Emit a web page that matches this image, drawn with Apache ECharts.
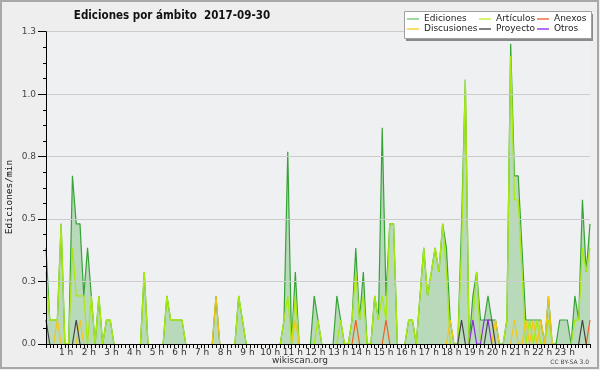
<!DOCTYPE html>
<html><head><meta charset="utf-8">
<script src="https://cdn.jsdelivr.net/npm/echarts@6/dist/echarts.min.js"></script>
<style>html,body{margin:0;padding:0;background:#eeeeee}#c{width:600px;height:370px}</style>
</head><body><div id="c"></div>
<script>
// one value every 10 minutes, from 00:00 to 24:00 (145 points)
const STEP_MIN = 10;
const hourLabels = ['', '1 h','2 h','3 h','4 h','5 h','6 h','7 h','8 h','9 h','10 h','11 h','12 h','13 h','14 h','15 h','16 h','17 h','18 h','19 h','20 h','21 h','22 h','23 h',''];
const yTickLabels = ['0.0','0.3','0.5','0.8','1.0','1.3'];

const ediciones = [
 0.4,0.1,0.1,0.1,0.5,0,0,0.7,0.5,0.5,
 0.2,0.4,0.2,0,0.2,0,0.1,0.1,0,0,
 0,0,0,0,0,0,0.3,0,0,0,
 0,0,0.2,0.1,0.1,0.1,0.1,0,0,0,
 0,0,0,0,0,0.2,0,0,0,0,
 0,0.2,0.1,0,0,0,0,0,0,0,
 0,0,0,0.1,0.8,0,0.3,0,0,0,
 0,0.2,0.1,0,0,0,0,0.2,0.1,0,
 0,0.1,0.4,0.1,0.3,0,0,0.2,0.1,0.9,
 0.2,0.5,0.5,0,0,0,0.1,0.1,0,0.2,
 0.4,0.2,0.3,0.4,0.3,0.5,0.4,0.1,0,0,
 0.5,1.1,0,0.2,0.3,0.1,0.1,0.2,0.1,0.1,
 0,0,0.1,1.25,0.7,0.7,0.4,0.1,0.1,0.1,
 0.1,0.1,0,0.2,0,0,0.1,0.1,0.1,0,
 0.2,0.1,0.6,0.3,0.5
];
const articulos = [
 0.3,0.1,0.1,0.1,0.5,0,0,0.4,0.2,0.2,
 0.2,0,0.2,0,0.2,0,0.1,0.1,0,0,
 0,0,0,0,0,0,0.3,0,0,0,
 0,0,0.2,0.1,0.1,0.1,0.1,0,0,0,
 0,0,0,0,0,0,0,0,0,0,
 0,0.2,0.1,0,0,0,0,0,0,0,
 0,0,0,0.1,0.2,0,0.2,0,0,0,
 0,0,0.1,0,0,0,0,0,0.1,0,
 0,0.1,0.3,0.1,0.2,0,0,0.2,0.1,0.2,
 0.1,0.5,0.5,0,0,0,0.1,0.1,0,0.2,
 0.4,0.2,0.3,0.4,0.3,0.5,0.3,0,0,0,
 0.4,1.1,0,0.1,0.3,0,0,0,0,0,
 0,0,0.1,1.2,0.6,0.6,0.3,0,0.1,0,
 0.1,0,0,0.1,0,0,0,0,0,0,
 0.1,0.1,0.4,0.3,0.4
];
const discusiones = [
 0,0,0,0.1,0,0,0,0,0,0.1,
 0,0,0,0,0,0,0,0,0,0,
 0,0,0,0,0,0,0,0,0,0,
 0,0,0,0,0,0,0,0,0,0,
 0,0,0,0,0,0.2,0,0,0,0,
 0,0,0,0,0,0,0,0,0,0,
 0,0,0,0,0,0,0.1,0,0,0,
 0,0,0,0,0,0,0,0,0,0,
 0,0,0,0,0,0,0,0,0,0,
 0,0,0,0,0,0,0,0,0,0,
 0,0,0,0,0,0,0,0.1,0,0,
 0,0,0,0,0,0,0,0,0,0.1,
 0,0,0,0,0.1,0,0,0.1,0,0.1,
 0,0.1,0,0.2,0,0,0,0,0,0,
 0,0,0,0,0
];
const anexos = [
 0,0,0,0,0,0,0,0,0,0,
 0,0,0,0,0,0,0,0,0,0,
 0,0,0,0,0,0,0,0,0,0,
 0,0,0,0,0,0,0,0,0,0,
 0,0,0,0,0,0,0,0,0,0,
 0,0,0,0,0,0,0,0,0,0,
 0,0,0,0,0,0,0,0,0,0,
 0,0,0,0,0,0,0,0,0,0,
 0,0,0.1,0,0,0,0,0,0,0,
 0.1,0,0,0,0,0,0,0,0,0,
 0,0,0,0,0,0,0,0,0,0,
 0,0,0,0,0,0,0,0,0,0,
 0,0,0,0,0,0,0,0,0,0,
 0,0,0,0,0,0,0,0,0,0,
 0,0,0,0,0.1
];
const proyecto = [
 0.1,0,0,0,0,0,0,0,0.1,0,
 0,0,0,0,0,0,0,0,0,0,
 0,0,0,0,0,0,0,0,0,0,
 0,0,0,0,0,0,0,0,0,0,
 0,0,0,0,0,0,0,0,0,0,
 0,0,0,0,0,0,0,0,0,0,
 0,0,0,0,0,0,0,0,0,0,
 0,0,0,0,0,0,0,0,0,0,
 0,0,0,0,0,0,0,0,0,0,
 0,0,0,0,0,0,0,0,0,0,
 0,0,0,0,0,0,0,0,0,0,
 0.1,0,0,0,0,0,0,0.1,0.1,0,
 0,0,0,0,0,0,0,0,0,0,
 0,0,0,0,0,0,0,0,0,0,
 0,0,0.1,0,0
];
const otros = [
 0,0,0,0,0,0,0,0,0,0,
 0,0,0,0,0,0,0,0,0,0,
 0,0,0,0,0,0,0,0,0,0,
 0,0,0,0,0,0,0,0,0,0,
 0,0,0,0,0,0,0,0,0,0,
 0,0,0,0,0,0,0,0,0,0,
 0,0,0,0,0,0,0,0,0,0,
 0,0,0,0,0,0,0,0,0,0,
 0,0,0,0,0,0,0,0,0,0,
 0,0,0,0,0,0,0,0,0,0,
 0,0,0,0,0,0,0,0,0,0,
 0,0,0,0.1,0,0,0.1,0.1,0,0,
 0,0,0,0,0,0,0,0,0,0,
 0,0,0,0,0,0,0,0,0,0,
 0,0,0,0,0
];

function pts(arr){
  return arr.map((v,i)=>{
    const p = i>0?arr[i-1]:0, n = i<arr.length-1?arr[i+1]:0;
    return [i*STEP_MIN, (v===0 && p===0 && n===0) ? null : v];
  });
}
const FONT = 'DejaVu Sans';
function lineSeries(name, arr, color, z, w){
  return {name, type:'line', data:pts(arr), showSymbol:false, symbol:'none', z,
    connectNulls:false, lineStyle:{color, width:w||1.2}, itemStyle:{color}, animation:false};
}
const legendBase = {orient:'vertical', top:14, padding:0, itemGap:0, itemWidth:12, itemHeight:1.5, icon:'rect', z:10,
  textStyle:{fontFamily:FONT, fontSize:9, color:'#222', lineHeight:10}};

const chart = echarts.init(document.getElementById('c'), null, {renderer:'canvas'});
chart.setOption({
  backgroundColor:'#eeeeee',
  animation:false,
  grid:{left:46, right:10, top:31.7, bottom:26, show:true, backgroundColor:'#eff0f2', borderWidth:0,
        containLabel:false, outerBoundsMode:'none'},
  xAxis:{type:'value', min:0, max:24*60, interval:60, z:5,
    axisLine:{lineStyle:{color:'#000', width:1}},
    axisTick:{show:true, length:4, lineStyle:{color:'#000'}},
    minorTick:{show:true, splitNumber:6, length:4, lineStyle:{color:'#000'}},
    splitLine:{show:false},
    axisLabel:{margin:4, fontFamily:FONT, fontSize:9, color:'#333', padding:[0,5,0,0],
      formatter:(v)=>hourLabels[Math.round(v/60)]||''}
  },
  yAxis:{type:'value', min:0, max:1.3, interval:0.26, z:5,
    axisLine:{show:true, lineStyle:{color:'#000', width:1}},
    axisTick:{show:true, length:8, lineStyle:{color:'#000'}},
    minorTick:{show:true, splitNumber:4, length:3, lineStyle:{color:'#000'}},
    splitLine:{show:true, lineStyle:{color:'#cccccc', width:1}},
    axisLabel:{margin:10, fontFamily:FONT, fontSize:9, color:'#444',
      formatter:(v)=>yTickLabels[Math.round(v/0.26)]}
  },
  legend:[
    Object.assign({}, legendBase, {left:407, data:[{name:'Ediciones', itemStyle:{color:'#80cc80'}},{name:'Discusiones', itemStyle:{color:'#f7d23a'}}]}),
    Object.assign({}, legendBase, {left:479, data:[{name:'Artículos', itemStyle:{color:'#c6f040'}},{name:'Proyecto', itemStyle:{color:'#555555'}}]}),
    Object.assign({}, legendBase, {left:537, data:[{name:'Anexos', itemStyle:{color:'#f07040'}},{name:'Otros', itemStyle:{color:'#9a3df0'}}]})
  ],
  graphic:[
    {type:'rect', shape:{x:1, y:1, width:597, height:367}, style:{fill:'none', stroke:'#a8a8a8', lineWidth:2}, z:100},
    {type:'rect', shape:{x:406, y:14, width:187, height:27}, style:{fill:'#8a8a8a'}, z:8},
    {type:'rect', shape:{x:404.5, y:11.5, width:187, height:27}, style:{fill:'#ffffff', stroke:'#a0a0a0', lineWidth:1}, z:9},
    {type:'text', x:172, y:16, style:{text:'Ediciones por ámbito  2017-09-30', fill:'#111',
      font:'bold 11.5px "DejaVu Sans Condensed", "DejaVu Sans"', textAlign:'center', textVerticalAlign:'middle'}, z:10},
    {type:'text', x:10, y:197, rotation:Math.PI/2, style:{text:'Ediciones/min', fill:'#111',
      font:'9.5px "DejaVu Sans Mono"', textAlign:'center', textVerticalAlign:'middle'}, z:10},
    {type:'text', x:300, y:361, style:{text:'wikiscan.org', fill:'#333', font:'9px "DejaVu Sans"',
      textAlign:'center', textVerticalAlign:'middle'}, z:10},
    {type:'text', x:589, y:362.5, style:{text:'CC BY-SA 3.0', fill:'#444', font:'6px "DejaVu Sans"',
      textAlign:'right', textVerticalAlign:'middle'}, z:10}
  ],
  series:[
    Object.assign(lineSeries('Ediciones', ediciones, '#36a336', 2, 1.2),
      {areaStyle:{color:'rgba(120,190,120,0.65)', origin:'start'}}),
    lineSeries('Artículos', articulos, '#a8ea10', 3, 1.3),
    lineSeries('Discusiones', discusiones, '#f5c518', 4, 1.2),
    lineSeries('Anexos', anexos, '#f06020', 4, 1.2),
    lineSeries('Proyecto', proyecto, '#444444', 4, 1.2),
    lineSeries('Otros', otros, '#8a2be2', 4, 1.2)
  ]
});
</script></body></html>
